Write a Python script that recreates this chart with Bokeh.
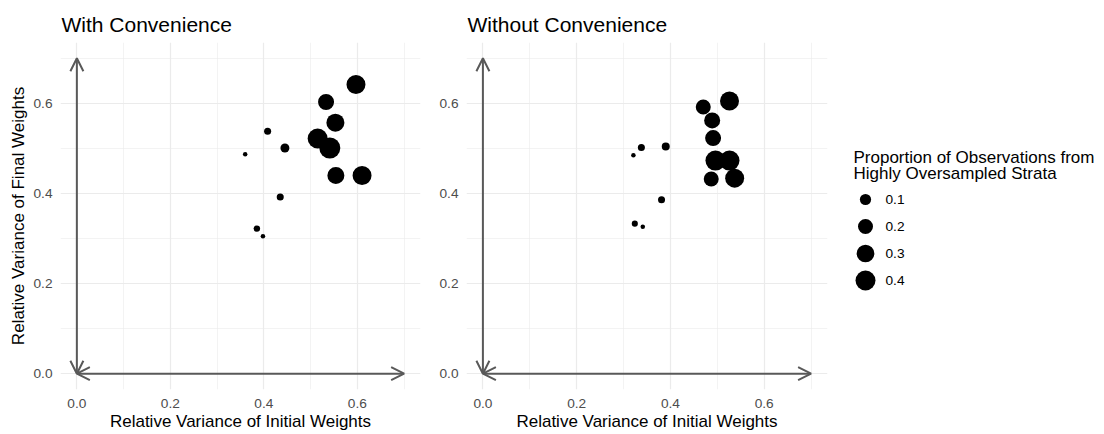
import numpy as np
from bokeh.plotting import figure
from bokeh.layouts import row
from bokeh.models import (Range1d, FixedTicker, PrintfTickFormatter, Arrow, OpenHead,
                          ColumnDataSource)
from bokeh.embed import file_html
from bokeh.resources import INLINE
from bokeh.core.properties import value

# ---------------- data ----------------
with_x = [0.597, 0.533, 0.553, 0.515, 0.541, 0.554, 0.610, 0.408, 0.445, 0.360, 0.435, 0.385, 0.398]
with_y = [0.642, 0.603, 0.557, 0.522, 0.501, 0.440, 0.440, 0.538, 0.501, 0.487, 0.392, 0.322, 0.305]
with_p = [0.354, 0.234, 0.311, 0.400, 0.450, 0.271, 0.354, 0.040, 0.061, 0.030, 0.040, 0.036, 0.030]

without_x = [0.526, 0.470, 0.489, 0.491, 0.496, 0.526, 0.487, 0.537, 0.390, 0.338, 0.321, 0.381, 0.324, 0.341]
without_y = [0.605, 0.592, 0.562, 0.523, 0.473, 0.473, 0.432, 0.434, 0.504, 0.502, 0.485, 0.386, 0.333, 0.326]
without_p = [0.354, 0.200, 0.234, 0.234, 0.400, 0.400, 0.200, 0.354, 0.049, 0.040, 0.030, 0.040, 0.034, 0.030]

legend_breaks = [0.1, 0.2, 0.3, 0.4]
tick_values = [0.0, 0.2, 0.4, 0.6]
minor_tick_values = [0.1, 0.3, 0.5, 0.7]

arrow_x0 = [0.0, 0.0]
arrow_y0 = [0.0, 0.0]
arrow_x1 = [0.7, 0.0]
arrow_y1 = [0.0, 0.7]

panel_titles = ["With Convenience", "Without Convenience"]
x_label = "Relative Variance of Initial Weights"
y_label = "Relative Variance of Final Weights"
legend_title = ["Proportion of Observations from", "Highly Oversampled Strata"]

# ---------------- styling ----------------
FONT = "Liberation Sans"
GRID = "#EBEBEB"
ARROW_COL = "#595959"
H = 434
TOP, BOTTOM = 42, 45
all_p = with_p + without_p
pmin, pmax = min(all_p), max(all_p)
DMIN, DMAX = 4.5, 21.0


def diam(v):
    v = np.clip(np.asarray(v, dtype=float), pmin, pmax)
    return DMIN + (DMAX - DMIN) * np.sqrt((v - pmin) / (pmax - pmin))


def panel(title, xs, ys, ps, width, left, right, show_ylabel):
    p = figure(width=width, height=H, x_range=Range1d(-0.035, 0.735),
               y_range=Range1d(-0.035, 0.735), output_backend="svg",
               toolbar_location=None, min_border_left=left, min_border_right=right,
               min_border_top=TOP, min_border_bottom=BOTTOM, title=title)
    p.outline_line_color = None
    p.background_fill_color = "white"
    p.border_fill_color = "white"
    p.title.text_font = FONT
    p.title.text_font_size = "21px"
    p.title.text_font_style = "normal"
    p.title.text_color = "black"
    p.title.align = "left"
    p.title.offset = 1
    p.title.standoff = 13
    for ax in (p.xaxis[0], p.yaxis[0]):
        ax.ticker = FixedTicker(ticks=tick_values, minor_ticks=minor_tick_values)
        ax.formatter = PrintfTickFormatter(format="%.1f")
        ax.axis_line_color = None
        ax.major_tick_line_color = None
        ax.minor_tick_line_color = None
        ax.major_tick_out = 0
        ax.major_tick_in = 0
        ax.minor_tick_out = 0
        ax.minor_tick_in = 0
        ax.major_label_text_font = FONT
        ax.major_label_text_font_size = "13.7px"
        ax.major_label_text_color = "#4D4D4D"
        ax.axis_label_text_font = FONT
        ax.axis_label_text_font_size = "17px"
        ax.axis_label_text_font_style = "normal"
        ax.axis_label_text_color = "black"
    p.xaxis[0].axis_label = x_label
    p.xaxis[0].major_label_standoff = 9
    p.xaxis[0].axis_label_standoff = 1
    p.yaxis[0].major_label_standoff = 8
    p.yaxis[0].axis_label_standoff = 2
    if show_ylabel:
        p.yaxis[0].axis_label = y_label
    p.grid.grid_line_color = GRID
    p.grid.grid_line_width = 1.2
    p.grid.minor_grid_line_color = GRID
    p.grid.minor_grid_line_width = 0.6

    src = ColumnDataSource(dict(x=arrow_x0, y=arrow_y0, x1=arrow_x1, y1=arrow_y1))
    head = dict(size=13, line_color=ARROW_COL, line_width=2)
    p.add_layout(Arrow(start=OpenHead(**head), end=OpenHead(**head),
                       x_start="x", y_start="y", x_end="x1", y_end="y1", source=src,
                       line_color=ARROW_COL, line_width=2))

    p.scatter(x=xs, y=ys, size=diam(ps), fill_color="black", line_color=None)
    return p


p1 = panel(panel_titles[0], with_x, with_y, with_p, 424, 60, 4, True)
p2 = panel(panel_titles[1], without_x, without_y, without_p, 411, 42, 8, False)

# ---------------- legend ----------------
# The row aligns plot frames, so the legend frame shares the panels' top/bottom
# borders; its ranges are set so that one data unit equals one pixel of the page.
LW = 1104 - 424 - 411
lg = figure(width=LW, height=H, x_range=Range1d(0, LW), y_range=Range1d(H - BOTTOM, TOP),
            output_backend="svg", toolbar_location=None, title=None,
            min_border_left=0, min_border_right=0,
            min_border_top=TOP, min_border_bottom=BOTTOM,
            x_axis_location=None, y_axis_location=None)
lg.outline_line_color = None
lg.grid.visible = False
lg.background_fill_color = "white"
lg.border_fill_color = "white"

title_x0, title_y0, title_step = 18, 156.7, 16.6
lg.text(x=[title_x0] * len(legend_title),
        y=[title_y0 + i * title_step for i in range(len(legend_title))],
        text=legend_title, text_font=value(FONT), text_font_size=value("17px"),
        text_color="black", text_baseline="alphabetic", text_align="left")

key_y0, key_step = 199, 27
key_y = [key_y0 + i * key_step for i in range(len(legend_breaks))]
lg.scatter(x=[30] * len(legend_breaks), y=key_y, size=diam(legend_breaks),
           fill_color="black", line_color=None)
lg.text(x=[50] * len(legend_breaks), y=key_y, text=[f"{b:.1f}" for b in legend_breaks],
        text_font=value(FONT), text_font_size=value("13.7px"), text_color="black",
        text_baseline="middle", text_align="left")

layout = row(p1, p2, lg)
open("out.html", "w").write(file_html(layout, INLINE))
